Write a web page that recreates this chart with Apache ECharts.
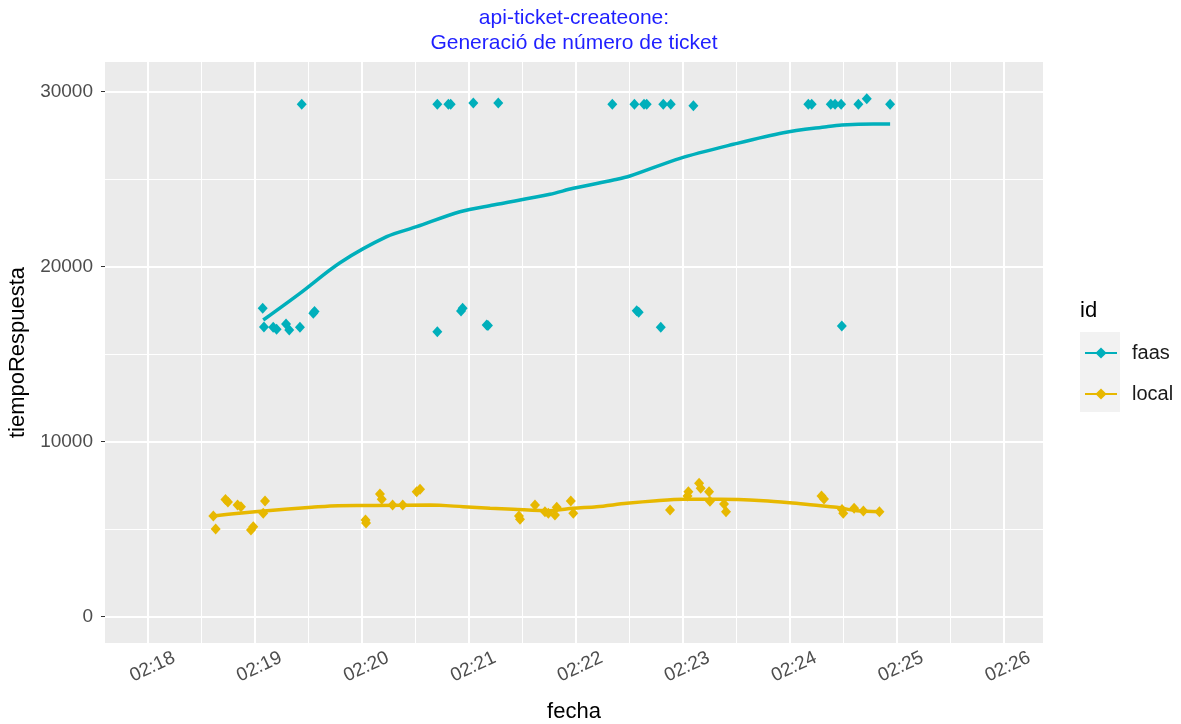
<!DOCTYPE html>
<html>
<head>
<meta charset="utf-8">
<title>api-ticket-createone</title>
<script src="https://cdn.jsdelivr.net/npm/echarts@6/dist/echarts.min.js"></script>
<style>
  html, body { margin: 0; padding: 0; background: #ffffff; }
  #chart { width: 1181px; height: 724px; }
</style>
</head>
<body>
<div id="chart"></div>
<script>
// Response times of api-ticket-createone, per request, for the two deployments.
const faasFecha = [
  '02:19:04.4', '02:19:05.1', '02:19:10.3', '02:19:12.2', '02:19:17.5', '02:19:19.3',
  '02:19:25.3', '02:19:26.3', '02:19:32.8', '02:19:33.5', '02:20:42.4', '02:20:42.4',
  '02:20:48.6', '02:20:49.9', '02:20:55.7', '02:20:56.6', '02:21:02.6', '02:21:10.1',
  '02:21:10.8', '02:21:16.6', '02:22:20.6', '02:22:33.0', '02:22:34.3', '02:22:35.4',
  '02:22:38.4', '02:22:39.9', '02:22:47.8', '02:22:49.2', '02:22:53.4', '02:23:06.1',
  '02:24:10.6', '02:24:12.5', '02:24:23.2', '02:24:25.6', '02:24:29.0', '02:24:29.4',
  '02:24:38.7', '02:24:43.4', '02:24:56.5'
];
const faasTiempo = [
  17611, 16543, 16526, 16411, 16714, 16371,
  16526, 29270, 17326, 17429, 29270, 16274,
  29270, 29270, 17457, 17611, 29343, 16657,
  16630, 29343, 29270, 29270, 17474, 17383,
  29270, 29270, 16526, 29270, 29270, 29190,
  29270, 29270, 29270, 29270, 29270, 16600,
  29270, 29590, 29270
];

const localFecha = [
  '02:18:36.7', '02:18:38.0', '02:18:43.5', '02:18:44.9', '02:18:50.3', '02:18:52.2',
  '02:18:57.8', '02:18:59.1', '02:19:04.7', '02:19:05.7', '02:20:02.1', '02:20:02.4',
  '02:20:10.2', '02:20:11.2', '02:20:17.3', '02:20:23.0', '02:20:30.8', '02:20:32.7',
  '02:21:28.2', '02:21:28.8', '02:21:37.2', '02:21:42.8', '02:21:44.7', '02:21:48.4',
  '02:21:49.4', '02:21:57.3', '02:21:58.7', '02:22:53.0', '02:23:02.8', '02:23:03.3',
  '02:23:09.3', '02:23:10.2', '02:23:14.9', '02:23:15.4', '02:23:23.3', '02:23:24.4',
  '02:24:18.0', '02:24:19.4', '02:24:29.5', '02:24:30.2', '02:24:36.3', '02:24:41.5',
  '02:24:50.5'
];
const localTiempo = [
  5743, 5000, 6686, 6543, 6371, 6274,
  4943, 5131, 5897, 6600, 5514, 5343,
  7000, 6697, 6371, 6371, 7131, 7269,
  5743, 5554, 6371, 5989, 5897, 5800,
  6240, 6600, 5897, 6086, 6886, 7131,
  7611, 7326, 7131, 6590, 6429, 5989,
  6886, 6714, 6114, 5897, 6183, 6029,
  5989
];

// Loess trend of each deployment.
const faasTrendFecha = [
  '02:19:04.7', '02:19:25.3', '02:19:47.8', '02:20:14.0', '02:20:30.8', '02:20:55.1',
  '02:21:13.8', '02:21:45.6', '02:21:58.7', '02:22:21.2', '02:22:30.5', '02:22:58.6',
  '02:23:28.5', '02:23:56.6', '02:24:20.9', '02:24:29.4', '02:24:47.1', '02:24:56.5'
];
const faasTrendTiempo = [
  16943, 18469, 20217, 21703, 22274, 23131,
  23514, 24126, 24469, 24943, 25171, 26183,
  26983, 27646, 27989, 28086, 28143, 28143
];
const localTrendFecha = [
  '02:18:36.7', '02:18:45.1', '02:19:00.1', '02:19:16.9', '02:19:31.9', '02:19:46.8',
  '02:20:07.4', '02:20:38.3', '02:20:57.0', '02:21:12.0', '02:21:25.0', '02:21:45.6',
  '02:21:58.7', '02:22:11.8', '02:22:28.7', '02:22:45.5', '02:23:00.5', '02:23:21.1',
  '02:23:45.4', '02:24:00.3', '02:24:13.4', '02:24:26.5', '02:24:37.8', '02:24:50.9'
];
const localTrendTiempo = [
  5743, 5840, 5989, 6126, 6240, 6331,
  6340, 6371, 6274, 6183, 6126, 6046,
  6183, 6274, 6469, 6617, 6697, 6697,
  6617, 6503, 6371, 6240, 6046, 5989
];

// Axis ticks
const xTickLabels = ['02:18', '02:19', '02:20', '02:21', '02:22', '02:23', '02:24', '02:25', '02:26'];
const yTicks = [0, 10000, 20000, 30000];
const yMinorTicks = [5000, 15000, 25000];

const COLORS = { faas: '#00AFBB', local: '#E7B800' };
const FONT = "'Liberation Sans', Arial, Helvetica, sans-serif";

// "HH:MM[:SS.s]" -> seconds of the day
function toSeconds(str) {
  const p = str.split(':').map(Number);
  return p[0] * 3600 + p[1] * 60 + (p[2] || 0);
}
function pad2(n) { return (n < 10 ? '0' : '') + n; }
function fmtHM(sec) {
  const m = Math.round(sec / 60);
  return pad2(Math.floor(m / 60)) + ':' + pad2(m % 60);
}
function pairs(times, values) {
  return times.map((t, i) => [toSeconds(t), values[i]]);
}

const xTicks = xTickLabels.map(toSeconds);
const xMinorTicks = xTicks.map(v => v - 30).concat([xTicks[xTicks.length - 1] + 30]);

// Panel extents (ggplot-style expansion around the data)
const X_MIN = toSeconds('02:17:35.9');
const X_MAX = toSeconds('02:26:22.3');
const Y_MIN = -1514;
const Y_MAX = 31686;

const gridLines = []
  .concat(xMinorTicks.filter(v => v > X_MIN && v < X_MAX)
    .map(v => ({ xAxis: v, lineStyle: { color: '#ffffff', width: 1, type: 'solid' } })))
  .concat(yMinorTicks.map(v => ({ yAxis: v, lineStyle: { color: '#ffffff', width: 1, type: 'solid' } })))
  .concat(xTicks.map(v => ({ xAxis: v, lineStyle: { color: '#ffffff', width: 2, type: 'solid' } })))
  .concat(yTicks.map(v => ({ yAxis: v, lineStyle: { color: '#ffffff', width: 2, type: 'solid' } })));

const chart = echarts.init(document.getElementById('chart'), null, { renderer: 'canvas' });

const option = {
  animation: false,
  backgroundColor: '#ffffff',
  textStyle: { fontFamily: FONT },
  grid: {
    left: 105, top: 62, right: 138, bottom: 81,
    outerBoundsMode: 'none',
    containLabel: false,
    show: true, backgroundColor: '#EBEBEB', borderWidth: 0
  },
  graphic: [
    {
      type: 'text', silent: true,
      style: {
        x: 574, y: 18, text: 'api-ticket-createone:',
        fill: '#1F1FFF', font: '21px ' + FONT,
        align: 'center', verticalAlign: 'middle',
        textAlign: 'center', textVerticalAlign: 'middle'
      }
    },
    {
      type: 'text', silent: true,
      style: {
        x: 574, y: 43, text: 'Generació de número de ticket',
        fill: '#1F1FFF', font: '21px ' + FONT,
        align: 'center', verticalAlign: 'middle',
        textAlign: 'center', textVerticalAlign: 'middle'
      }
    },
    {
      type: 'text', silent: true,
      style: {
        x: 1080, y: 311, text: 'id',
        fill: '#000000', font: '22px ' + FONT,
        align: 'left', verticalAlign: 'middle',
        textAlign: 'left', textVerticalAlign: 'middle'
      }
    },
    {
      type: 'rect', silent: true, z: -1,
      shape: { x: 1080, y: 332, width: 40, height: 80 },
      style: { fill: '#F2F2F2' }
    }
  ],
  legend: {
    data: ['faas', 'local'],
    orient: 'vertical',
    left: 1084, top: 343,
    padding: 0,
    itemWidth: 32, itemHeight: 14, itemGap: 21,
    selectedMode: false,
    textStyle: { fontFamily: FONT, fontSize: 20, color: '#1A1A1A', padding: [0, 0, 0, 10] }
  },
  xAxis: {
    type: 'value',
    min: X_MIN, max: X_MAX,
    name: 'fecha',
    nameLocation: 'middle',
    nameGap: 58,
    nameTextStyle: { fontFamily: FONT, fontSize: 22, color: '#000000' },
    axisLine: { show: false },
    axisTick: { show: true, customValues: xTicks, length: 4, lineStyle: { color: '#333333', width: 1 } },
    axisLabel: {
      customValues: xTicks,
      formatter: v => fmtHM(v),
      rotate: 25,
      align: 'center', verticalAlign: 'middle',
      margin: 26,
      padding: [0, 0, 0, 10],
      fontFamily: FONT, fontSize: 19, color: '#4D4D4D'
    },
    splitLine: { show: false }
  },
  yAxis: {
    type: 'value',
    min: Y_MIN, max: Y_MAX,
    name: 'tiempoRespuesta',
    nameLocation: 'middle',
    nameGap: 74,
    nameTextStyle: { fontFamily: FONT, fontSize: 22, color: '#000000' },
    axisLine: { show: false },
    axisTick: { show: true, customValues: yTicks, length: 4, lineStyle: { color: '#333333', width: 1 } },
    axisLabel: {
      customValues: yTicks,
      formatter: v => String(v),
      margin: 12,
      fontFamily: FONT, fontSize: 19, color: '#4D4D4D'
    },
    splitLine: { show: false }
  },
  series: [
    {
      name: 'panel-grid',
      type: 'line',
      data: [],
      z: 1,
      silent: true,
      markLine: {
        z: 1,
        silent: true,
        symbol: ['none', 'none'],
        label: { show: false },
        emphasis: { disabled: true },
        animation: false,
        data: gridLines
      }
    },
    {
      name: 'faas',
      type: 'line',
      data: pairs(faasTrendFecha, faasTrendTiempo),
      showSymbol: false,
      symbol: 'diamond',
      smooth: 0.3,
      color: COLORS.faas,
      lineStyle: { width: 3.5, color: COLORS.faas },
      itemStyle: { color: COLORS.faas },
      z: 3
    },
    {
      name: 'faas',
      type: 'scatter',
      data: pairs(faasFecha, faasTiempo),
      symbol: 'diamond',
      symbolSize: [10, 11],
      itemStyle: { color: COLORS.faas, opacity: 1 },
      z: 4
    },
    {
      name: 'local',
      type: 'line',
      data: pairs(localTrendFecha, localTrendTiempo),
      showSymbol: false,
      symbol: 'diamond',
      smooth: 0.3,
      color: COLORS.local,
      lineStyle: { width: 3.5, color: COLORS.local },
      itemStyle: { color: COLORS.local },
      z: 3
    },
    {
      name: 'local',
      type: 'scatter',
      data: pairs(localFecha, localTiempo),
      symbol: 'diamond',
      symbolSize: [10, 11],
      itemStyle: { color: COLORS.local, opacity: 1 },
      z: 4
    }
  ]
};

chart.setOption(option);
</script>
</body>
</html>
